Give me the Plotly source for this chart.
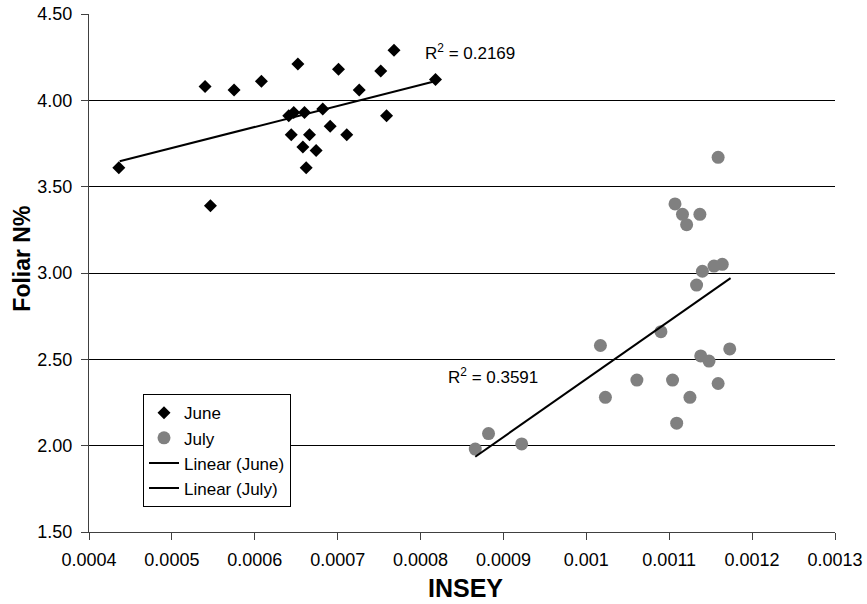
import plotly.graph_objects as go

june_x = [0.000436, 0.0005465, 0.000540, 0.000575, 0.000608, 0.000652, 0.000701, 0.000752,
          0.000768, 0.000818, 0.000726, 0.000759, 0.000682, 0.000660, 0.000647, 0.000641,
          0.000691, 0.000644, 0.000666, 0.000711, 0.000658, 0.000674, 0.000662]
june_y = [3.61, 3.39, 4.08, 4.06, 4.11, 4.21, 4.18, 4.17,
          4.29, 4.12, 4.06, 3.91, 3.95, 3.93, 3.93, 3.91,
          3.85, 3.80, 3.80, 3.80, 3.73, 3.71, 3.61]

july_x = [0.001159, 0.001107, 0.001116, 0.001121, 0.001137, 0.001140, 0.001154, 0.001164,
          0.001133, 0.001090, 0.001017, 0.001138, 0.001148, 0.001173, 0.001061, 0.001104,
          0.001159, 0.001023, 0.001125, 0.001109, 0.000866, 0.000882, 0.000922]
july_y = [3.67, 3.40, 3.34, 3.28, 3.34, 3.01, 3.04, 3.05,
          2.93, 2.66, 2.58, 2.52, 2.49, 2.56, 2.38, 2.38,
          2.36, 2.28, 2.28, 2.13, 1.98, 2.07, 2.01]

june_trend_x = [0.000437, 0.000815]
june_trend_y = [3.647, 4.108]
july_trend_x = [0.000866, 0.001174]
july_trend_y = [1.936, 2.97]

june_r2 = "R<sup>2</sup> = 0.2169"
july_r2 = "R<sup>2</sup> = 0.3591"

x_ticks = [0.0004, 0.0005, 0.0006, 0.0007, 0.0008, 0.0009, 0.001, 0.0011, 0.0012, 0.0013]
x_labels = ["0.0004", "0.0005", "0.0006", "0.0007", "0.0008", "0.0009", "0.001", "0.0011", "0.0012", "0.0013"]
y_ticks = [1.5, 2.0, 2.5, 3.0, 3.5, 4.0, 4.5]
y_labels = ["1.50", "2.00", "2.50", "3.00", "3.50", "4.00", "4.50"]

x_title = "INSEY"
y_title = "Foliar N%"

font = "Liberation Sans, Arial, sans-serif"

fig = go.Figure()
fig.add_trace(go.Scatter(x=june_x, y=june_y, mode="markers", name="June", legendgroup="a",
                         marker=dict(symbol="diamond", size=10, color="black")))
fig.add_trace(go.Scatter(x=july_x, y=july_y, mode="markers", name="July", legendgroup="b",
                         marker=dict(symbol="circle", size=13, color="#808080")))
fig.add_trace(go.Scatter(x=june_trend_x, y=june_trend_y, mode="lines", name="Linear (June)",
                         legendgroup="c", line=dict(color="black", width=2)))
fig.add_trace(go.Scatter(x=july_trend_x, y=july_trend_y, mode="lines", name="Linear (July)",
                         legendgroup="d", line=dict(color="black", width=2)))

fig.add_annotation(x=0.000803, y=4.282, text=june_r2, showarrow=False, xanchor="left",
                   yanchor="middle", font=dict(family=font, size=17, color="black"))
fig.add_annotation(x=0.000831, y=2.404, text=july_r2, showarrow=False, xanchor="left",
                   yanchor="middle", font=dict(family=font, size=17, color="black"))

fig.add_annotation(xref="paper", yref="paper", x=0.505, y=-0.109, text="<b>" + x_title + "</b>",
                   showarrow=False, xanchor="center", yanchor="middle",
                   font=dict(family=font, size=25, color="black"))
fig.add_annotation(xref="paper", yref="paper", x=-0.0896, y=0.528, text="<b>" + y_title + "</b>",
                   showarrow=False, xanchor="center", yanchor="middle", textangle=-90,
                   font=dict(family=font, size=23, color="black"))

fig.update_layout(
    template="none",
    width=867, height=604,
    margin=dict(l=89, r=32, t=14, b=72, pad=0),
    paper_bgcolor="white", plot_bgcolor="white",
    font=dict(family=font, size=17, color="black"),
    showlegend=True,
    legend=dict(x=0.0724, y=0.266, xanchor="left", yanchor="top",
                bordercolor="black", borderwidth=1, bgcolor="white",
                traceorder="grouped", tracegroupgap=0,
                font=dict(family=font, size=17, color="black")),
    xaxis=dict(range=[0.0004, 0.0013], tickvals=x_ticks, ticktext=x_labels, automargin=False,
               showgrid=False, zeroline=False, showline=True, linecolor="#404040", linewidth=1,
               ticks="outside", ticklen=7, tickwidth=1, tickcolor="#404040",
               ticklabeloverflow="allow", ticklabelstandoff=4,
               tickfont=dict(family=font, size=18, color="black")),
    yaxis=dict(range=[1.5, 4.5], tickvals=y_ticks, ticktext=y_labels, automargin=False,
               showgrid=True, gridcolor="black", gridwidth=1, zeroline=False,
               showline=True, linecolor="#404040", linewidth=1,
               ticks="outside", ticklen=7, tickwidth=1, tickcolor="#404040",
               ticklabeloverflow="allow", ticklabelstandoff=5,
               tickfont=dict(family=font, size=18, color="black")),
)

fig.write_html("out.html", config={"displayModeBar": False},
               post_script="document.body.style.margin='0px';")
